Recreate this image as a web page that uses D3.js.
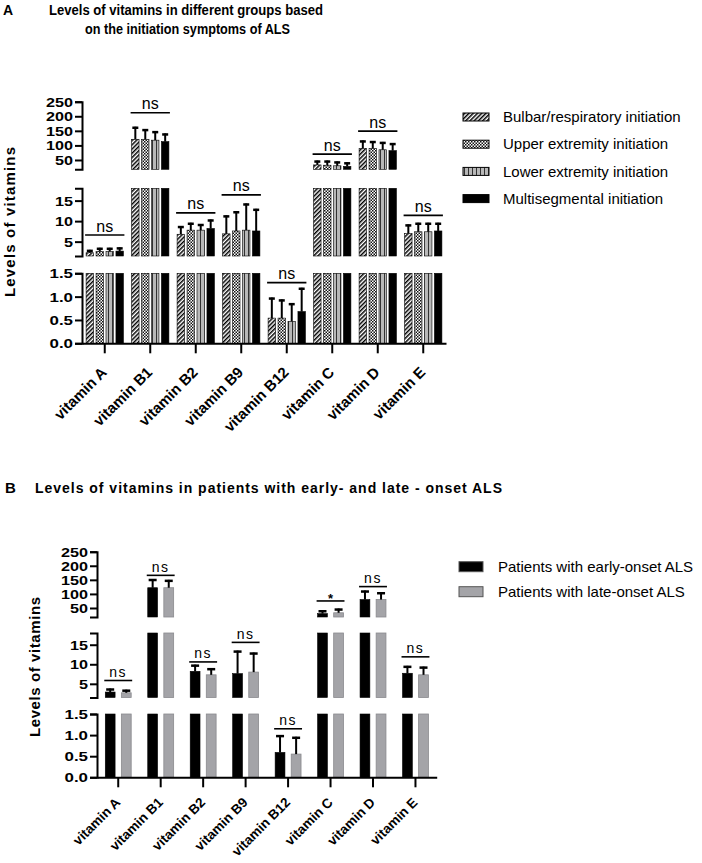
<!DOCTYPE html>
<html><head><meta charset="utf-8">
<script src="https://cdn.jsdelivr.net/npm/d3@7"></script>
<style>body{margin:0;background:#fff}svg{display:block}</style>
</head><body>
<svg id="c" width="702" height="863"></svg>
<script>
// ---------- DATA ----------
const categories = ["vitamin A","vitamin B1","vitamin B2","vitamin B9","vitamin B12","vitamin C","vitamin D","vitamin E"];

// Panel A: groups by initiation symptom (mean and SD)
const seriesA = ["Bulbar/respiratory initiation","Upper extremity initiation","Lower extremity initiation","Multisegmental initiation"];
const bulbarMean = [2.3, 121, 6.8, 6.9, 0.54, 33, 90, 7.0];
const bulbarSD   = [0.7, 43, 2.0, 4.5, 0.44, 15, 27, 2.2];
const upperMean  = [2.6, 121, 7.8, 7.6, 0.54, 32, 90, 7.4];
const upperSD    = [0.9, 35, 1.8, 4.8, 0.40, 16, 25, 2.2];
const lowerMean  = [2.6, 118, 7.8, 7.8, 0.47, 30, 85, 7.4];
const lowerSD    = [0.9, 31, 1.5, 6.5, 0.39, 15, 27, 2.2];
const multiMean  = [2.7, 113, 8.2, 7.6, 0.68, 28, 82, 7.6];
const multiSD    = [0.9, 28, 2.2, 5.4, 0.51, 14, 26, 2.0];
const sigLevelA  = [6.6, 212, 12, 16.4, 1.30, 70, 149, 11.4];
const sigLabelA  = ["ns","ns","ns","ns","ns","ns","ns","ns"];

// Panel B: early vs late onset (mean and SD)
const seriesB = ["Patients with early-onset ALS","Patients with late-onset ALS"];
const earlyMean = [2.9, 122, 8.2, 7.6, 0.59, 30, 80, 7.7];
const earlySD   = [0.9, 31, 1.7, 5.9, 0.41, 12, 32, 1.9];
const lateMean  = [2.7, 122, 7.3, 8.0, 0.55, 33, 80, 7.3];
const lateSD    = [0.8, 28, 1.7, 5.0, 0.41, 15, 26, 2.1];
const sigLevelB = [5.85, 166, 10.6, 15.6, 1.15, 75, 126, 11.9];
const sigLabelB = ["ns","ns","ns","ns","ns","*","ns","ns"];

// Broken y axis: segment breaks and tick labels
const axisBreaks = [0, 1.5, 18, 250];
const ticksBottom = [0, 0.5, 1.0, 1.5];
const ticksMiddle = [5, 10, 15];
const ticksTop = [50, 100, 150, 200, 250];

// ---------- DRAWING ----------
const svg = d3.select("#c");
svg.append("rect").attr("width",702).attr("height",863).attr("fill","#fff");
const FONT = "'Liberation Sans', Arial, Helvetica, sans-serif";

// patterns
const defs = svg.append("defs");
const ph = defs.append("pattern").attr("id","hatch").attr("width",3).attr("height",3)
  .attr("patternUnits","userSpaceOnUse").attr("patternTransform","rotate(45)");
ph.append("rect").attr("width",3).attr("height",3).attr("fill","#fff");
ph.append("line").attr("x1",0.75).attr("y1",0).attr("x2",0.75).attr("y2",3).attr("stroke","#000").attr("stroke-width",1.5);
const pc = defs.append("pattern").attr("id","checker").attr("width",3).attr("height",3).attr("patternUnits","userSpaceOnUse");
pc.append("rect").attr("width",3).attr("height",3).attr("fill","#fff");
pc.append("rect").attr("width",1.5).attr("height",1.5).attr("fill","#111");
pc.append("rect").attr("x",1.5).attr("y",1.5).attr("width",1.5).attr("height",1.5).attr("fill","#111");
const pv = defs.append("pattern").attr("id","vstripe").attr("width",4).attr("height",4).attr("patternUnits","userSpaceOnUse");
pv.append("rect").attr("width",4).attr("height",4).attr("fill","#b8b8b8");
pv.append("rect").attr("x",0).attr("width",0.9).attr("height",4).attr("fill","#222");

function tickLen(s){ let n=0; for(const ch of s){ n += ch==="." ? 5.5 : 9.0; } return n; }

function drawPanel(cfg){
  const g = svg.append("g");
  const x0 = d3.scaleBand().domain(categories).range(cfg.xr).paddingInner(cfg.pIn).paddingOuter(cfg.pIn/2);
  const x1 = d3.scaleBand().domain(cfg.series.map(s=>s.name)).range([0,x0.bandwidth()]).paddingInner(cfg.pIn2);
  const segs = cfg.segs.map(s=>({lo:s.lo,hi:s.hi,ticks:s.ticks,fmt:s.fmt,
     y:d3.scaleLinear().domain([s.lo,s.hi]).range(s.r)}));
  const segOf = v => segs.find(s=>v>=s.lo && v<=s.hi) || segs[segs.length-1];
  const bw = x1.bandwidth();

  // bars
  cfg.series.forEach(s=>{
    categories.forEach((c,i)=>{
      const m = s.mean[i];
      const bx = x0(c)+x1(s.name);
      segs.forEach(seg=>{
        if(m>seg.lo){
          const yt = seg.y(Math.min(m,seg.hi)), yb = seg.y(seg.lo);
          g.append("rect").attr("x",bx).attr("y",yt).attr("width",bw).attr("height",yb-yt)
            .attr("fill",s.fill).attr("stroke",s.stroke).attr("stroke-width",s.sw);
        }
      });
    });
  });
  // error bars (upper only)
  cfg.series.forEach(s=>{
    categories.forEach((c,i)=>{
      const m = s.mean[i], sd = s.sd[i];
      const cx = x0(c)+x1(s.name)+bw/2;
      const seg = segOf(m);
      const y1 = seg.y(m), y2 = seg.y(Math.min(m+sd,seg.hi));
      g.append("line").attr("x1",cx).attr("x2",cx).attr("y1",y1).attr("y2",y2)
        .attr("stroke","#000").attr("stroke-width",2);
      g.append("line").attr("x1",cx-cfg.cap/2).attr("x2",cx+cfg.cap/2).attr("y1",y2+1).attr("y2",y2+1)
        .attr("stroke","#000").attr("stroke-width",2.5);
    });
  });
  // y axis segments
  segs.forEach(seg=>{
    const ax = g.append("g").attr("transform",`translate(${cfg.xr[0]},0)`)
      .call(d3.axisLeft(seg.y).tickValues(seg.ticks).tickFormat(seg.fmt).tickSize(7).tickSizeOuter(7).tickPadding(2));
    ax.selectAll("path,line").attr("stroke","#000").attr("stroke-width",2);
    ax.selectAll("text").attr("font-family",FONT).attr("font-weight","bold").attr("font-size",12.5)
      .attr("fill","#000").attr("dy","0.36em")
      .attr("textLength",function(){ return tickLen(this.textContent); })
      .attr("lengthAdjust","spacingAndGlyphs");
  });
  // x axis
  const axisY = segs[0].y(segs[0].lo);
  const xa = g.append("g").attr("transform",`translate(0,${axisY})`)
    .call(d3.axisBottom(x0).tickSize(10).tickSizeOuter(0).tickFormat(""));
  xa.selectAll("path,line").attr("stroke","#000").attr("stroke-width",2);
  categories.forEach(c=>{
    const cx = x0(c)+x0.bandwidth()/2;
    g.append("text").attr("transform",`translate(${cx+cfg.lblDx},${axisY+cfg.lblDy}) rotate(-45)`)
      .attr("text-anchor","end").attr("font-family",FONT).attr("font-weight","bold")
      .attr("font-size",cfg.lblSize).attr("fill","#000").text(c);
  });
  // significance
  categories.forEach((c,i)=>{
    const seg = segOf(cfg.sig[i]);
    const ly = seg.y(cfg.sig[i]);
    const xs = x0(c)-1, xe = x0(c)+x0.bandwidth()+1;
    g.append("line").attr("x1",xs).attr("x2",xe).attr("y1",ly).attr("y2",ly)
      .attr("stroke","#000").attr("stroke-width",1.6);
    const lab = cfg.sigLab[i];
    if(lab==="*"){
      g.append("text").attr("x",(xs+xe)/2).attr("y",ly+2.5).attr("text-anchor","middle")
        .attr("font-family",FONT).attr("font-size",13).attr("font-weight","bold").text(lab);
    } else {
      g.append("text").attr("x",(xs+xe)/2).attr("y",ly-3.5).attr("text-anchor","middle")
        .attr("font-family",FONT).attr("font-size",cfg.nsSize).attr("letter-spacing",cfg.nsLS)
        .attr("fill","#000").text(lab);
    }
  });
  // y title
  g.append("text").attr("transform",`translate(${cfg.yTitle[0]},${cfg.yTitle[1]}) rotate(-90)`)
    .attr("text-anchor","middle").attr("font-family",FONT).attr("font-weight","bold").attr("font-size",15)
    .attr("textLength",cfg.yTitleLen).attr("lengthAdjust","spacing").text("Levels of vitamins");
  // legend
  cfg.series.forEach((s,k)=>{
    const ly = cfg.leg.y + k*cfg.leg.dy;
    g.append("rect").attr("x",cfg.leg.x).attr("y",ly-cfg.leg.h/2).attr("width",cfg.leg.w).attr("height",cfg.leg.h)
      .attr("fill",s.legFill||s.fill).attr("stroke",s.legStroke||"#000").attr("stroke-width",1);
    g.append("text").attr("x",cfg.leg.tx).attr("y",ly).attr("dy","0.35em")
      .attr("font-family",FONT).attr("font-size",15).attr("fill","#000").text(s.name);
  });
}

const fmt1 = d=>d3.format(".1f")(d);
const fmtInt = d=>d3.format("d")(d);

// Panel A
drawPanel({
  xr:[82,446], pIn:0.18, pIn2:0.25, cap:6,
  series:[
    {name:seriesA[0], mean:bulbarMean, sd:bulbarSD, fill:"url(#hatch)", stroke:"#000", sw:0.6},
    {name:seriesA[1], mean:upperMean, sd:upperSD, fill:"url(#checker)", stroke:"#000", sw:0.6},
    {name:seriesA[2], mean:lowerMean, sd:lowerSD, fill:"url(#vstripe)", stroke:"#000", sw:0.6},
    {name:seriesA[3], mean:multiMean, sd:multiSD, fill:"#000", stroke:"#000", sw:0.6}
  ],
  segs:[
    {lo:axisBreaks[0],hi:axisBreaks[1],r:[343.3,273.3],ticks:ticksBottom,fmt:fmt1},
    {lo:axisBreaks[1],hi:axisBreaks[2],r:[256,188.3],ticks:ticksMiddle,fmt:fmtInt},
    {lo:axisBreaks[2],hi:axisBreaks[3],r:[169.3,101.7],ticks:ticksTop,fmt:fmtInt}
  ],
  sig:sigLevelA, sigLab:sigLabelA, nsSize:16, nsLS:0,
  lblDx:3, lblDy:30, lblSize:15,
  yTitle:[15,222], yTitleLen:150,
  leg:{x:463,w:26,h:8,tx:503,y:117,dy:27.2}
});

// Panel B
drawPanel({
  xr:[97,436.7], pIn:0.39, pIn2:0.39, cap:8,
  series:[
    {name:seriesB[0], mean:earlyMean, sd:earlySD, fill:"#000", stroke:"#000", sw:0.6, legStroke:"#555"},
    {name:seriesB[1], mean:lateMean, sd:lateSD, fill:"#a4a4a8", stroke:"#8a8a8e", sw:0.8, legStroke:"#555"}
  ],
  segs:[
    {lo:axisBreaks[0],hi:axisBreaks[1],r:[777.3,714],ticks:ticksBottom,fmt:fmt1},
    {lo:axisBreaks[1],hi:axisBreaks[2],r:[697.5,633],ticks:ticksMiddle,fmt:fmtInt},
    {lo:axisBreaks[2],hi:axisBreaks[3],r:[617,551.7],ticks:ticksTop,fmt:fmtInt}
  ],
  sig:sigLevelB, sigLab:sigLabelB, nsSize:14, nsLS:1.5,
  lblDx:3, lblDy:26, lblSize:13.5,
  yTitle:[40,667], yTitleLen:140,
  leg:{x:459,w:24,h:10,tx:498,y:566.7,dy:25}
});

// Titles
svg.append("text").attr("x",3).attr("y",15).attr("font-family",FONT).attr("font-weight","bold")
  .attr("font-size",14).text("A");
svg.append("text").attr("x",49).attr("y",15).attr("font-family","'Liberation Sans Narrow', "+FONT)
  .attr("font-weight","bold").attr("font-size",14.5).attr("textLength",274).attr("lengthAdjust","spacingAndGlyphs")
  .text("Levels of vitamins in different groups based");
svg.append("text").attr("x",85).attr("y",34).attr("font-family","'Liberation Sans Narrow', "+FONT)
  .attr("font-weight","bold").attr("font-size",14.5).attr("textLength",205).attr("lengthAdjust","spacingAndGlyphs")
  .text("on the initiation symptoms of ALS");
svg.append("text").attr("x",5).attr("y",492.5).attr("font-family",FONT).attr("font-weight","bold")
  .attr("font-size",15).text("B");
svg.append("text").attr("x",35).attr("y",492.5).attr("font-family",FONT).attr("font-weight","bold")
  .attr("font-size",14).attr("textLength",467).attr("lengthAdjust","spacing")
  .text("Levels of vitamins in patients with early- and late - onset ALS");
</script>
</body></html>
